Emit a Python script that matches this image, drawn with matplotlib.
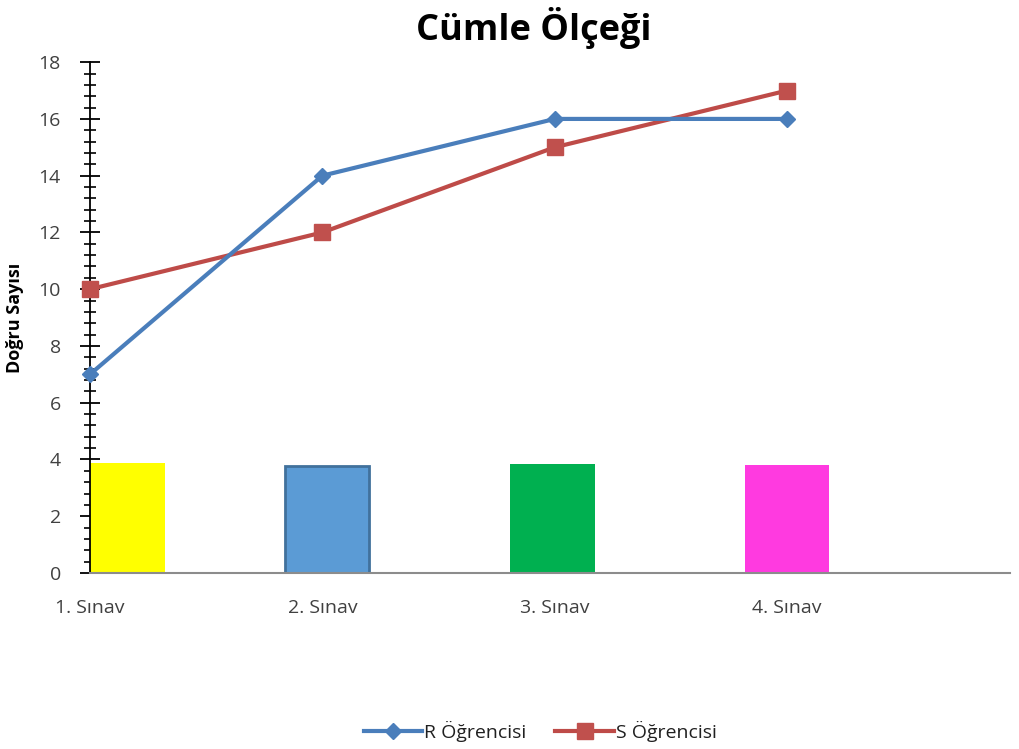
import matplotlib
matplotlib.use("Agg")
import matplotlib.pyplot as plt
from matplotlib.ticker import MultipleLocator

categories = ["1. Sınav", "2. Sınav", "3. Sınav", "4. Sınav"]
r_ogrenci = [7, 14, 16, 16]
s_ogrenci = [10, 12, 15, 17]
bar_heights = [3.87, 3.77, 3.84, 3.8]
bar_colors = ["#FFFF00", "#5B9BD5", "#00B050", "#FF3AE0"]

plt.rcParams['font.family'] = ['Open Sans', 'DejaVu Sans']

fig = plt.figure(figsize=(10.19, 7.49), dpi=100)
ax = fig.add_axes([0.0883, 0.235, 0.903, 0.682])

x = list(range(len(categories)))
offsets = [0.14, 0.02, -0.01, 0.0]
bx = [xi + o for xi, o in zip(x, offsets)]
edges = ["none", "#41719C", "none", "none"]
for xi, h, c, e in zip(bx, bar_heights, bar_colors, edges):
    ax.bar(xi, h, width=0.365, color=c, edgecolor=e, linewidth=2 if e != "none" else 0, zorder=2)

ax.plot(x, r_ogrenci, color="#4A7EBB", lw=3, marker="D", ms=8, mfc="#4A7EBB", mec="#4A7EBB",
        label="R Öğrencisi", zorder=4, clip_on=False)
ax.plot(x, s_ogrenci, color="#BE4B48", lw=3, marker="s", ms=11, mfc="#C0504D", mec="#C0504D",
        label="S Öğrencisi", zorder=3, clip_on=False)

ax.set_xlim(0, 3.96)
ax.set_ylim(0, 18)
ax.set_xticks(x)
ax.set_xticklabels(categories, fontsize=14, color="#404040")
ax.tick_params(axis="x", length=0, pad=19)
ax.yaxis.set_major_locator(MultipleLocator(2))
ax.yaxis.set_minor_locator(MultipleLocator(0.4))
ax.tick_params(axis="y", which="major", direction="inout", length=14, width=1.3, color="black",
               labelsize=14, labelcolor="#404040", pad=14)
ax.tick_params(axis="y", which="minor", direction="inout", length=9, width=1.2, color="black")

for side in ["top", "right"]:
    ax.spines[side].set_visible(False)
ax.spines["left"].set_color("black")
ax.spines["left"].set_linewidth(1.3)
ax.spines["bottom"].set_color("#8C8C8C")
ax.spines["bottom"].set_linewidth(1.5)

ax.set_ylabel("Doğru Sayısı", fontsize=13, fontweight="bold")
ax.yaxis.set_label_coords(-0.072, 0.5)

fig.text(0.524, 0.962, "Cümle Ölçeği", ha="center", va="center", fontsize=26, fontweight="bold",
         family=["Open Sans", "DejaVu Sans"])

leg = fig.legend(loc="center", bbox_to_anchor=(0.53, 0.024), ncol=2, frameon=False, fontsize=14,
                 handlelength=3, columnspacing=1.5, handletextpad=0.1)
for t in leg.get_texts():
    t.set_color("#202020")

fig.savefig("out.png", dpi=100)
